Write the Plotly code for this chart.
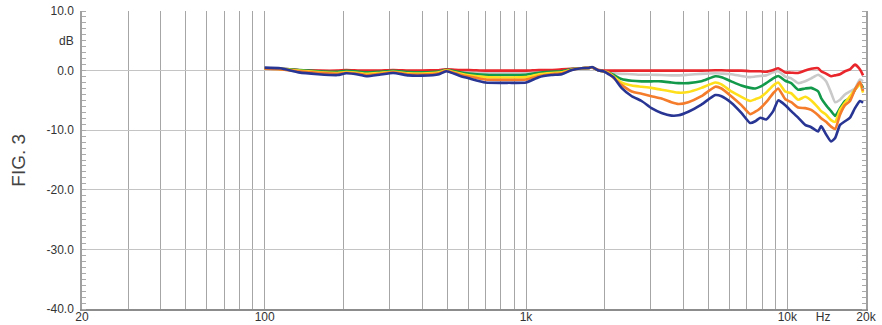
import math
import plotly.graph_objects as go

freq = [100, 115, 135, 160, 190, 205, 230, 245, 275, 310, 355, 400, 465, 495, 560,
        605, 700, 860, 1000, 1120, 1250, 1370, 1500, 1630, 1740, 1790, 1900, 1980, 2070, 2160,
        2320, 2540, 2770, 3020, 3300, 3600, 3830, 4180, 4690, 5300, 5600, 6100, 6670, 7210, 7540,
        7880, 8300, 8830, 9230, 9820, 10350, 11000, 11700, 12340, 13120, 13470, 14070, 14700, 15240, 15910,
        16620, 17370, 18150, 18970, 19490]

red = [0.4, 0.3, 0.1, 0.0, 0.0, 0.1, 0.0, 0.0, 0.0, 0.1, 0.0, 0.0, 0.1, 0.2, 0.1,
       0.1, 0.0, 0.0, 0.0, 0.1, 0.1, 0.2, 0.3, 0.4, 0.45, 0.5, 0.1, 0.0, 0.0, 0.0,
       0.0, 0.0, 0.0, 0.0, 0.0, 0.0, 0.0, 0.0, 0.0, 0.05, 0.05, 0.0, 0.0, -0.1, -0.1,
       -0.1, -0.2, 0.1, 0.4, -0.3, -0.35, -0.4, 0.0, 0.3, 0.4, -0.1, -0.5, -0.95, -0.8, -0.6,
       -0.1, 0.2, 1.0, 0.2, -0.8]

gray = [0.4, 0.3, 0.1, -0.05, -0.1, 0.0, -0.1, -0.15, -0.1, 0.0, -0.1, -0.1, 0.0, 0.2, -0.1,
        -0.2, -0.35, -0.4, -0.35, -0.1, 0.0, 0.1, 0.3, 0.4, 0.45, 0.55, 0.0, -0.1, -0.2, -0.4,
        -0.55, -0.6, -0.7, -0.7, -0.75, -0.8, -0.8, -0.7, -0.55, -0.45, -0.5, -0.6, -0.9, -1.1, -1.0,
        -0.9, -0.8, -0.3, -0.1, -1.0, -1.3, -2.1, -1.8, -1.3, -0.7, -1.0, -1.8, -3.7, -5.3, -4.9,
        -4.0, -3.5, -3.0, -1.5, -1.8]

green = [0.4, 0.3, 0.1, -0.1, -0.2, -0.05, -0.2, -0.3, -0.2, -0.05, -0.25, -0.3, -0.15, 0.15, -0.3,
         -0.5, -0.7, -0.75, -0.7, -0.35, -0.2, -0.1, 0.25, 0.4, 0.45, 0.55, 0.0, -0.1, -0.3, -0.7,
         -1.4, -1.7, -1.8, -1.8, -1.8, -2.0, -2.1, -2.1, -1.8, -0.95, -1.1, -1.8, -2.5, -2.9, -3.0,
         -2.7, -2.1, -1.3, -0.9, -1.7, -2.1, -3.2, -3.0, -2.9, -3.5, -4.6, -5.8, -6.8, -7.6, -6.3,
         -5.1, -4.6, -3.2, -2.1, -2.9]

yellow = [0.35, 0.25, 0.0, -0.25, -0.4, -0.25, -0.4, -0.55, -0.4, -0.2, -0.45, -0.5, -0.3, 0.05, -0.5,
          -0.8, -1.1, -1.15, -1.1, -0.6, -0.4, -0.3, 0.2, 0.4, 0.45, 0.55, 0.0, -0.1, -0.35, -0.95,
          -2.0, -2.5, -2.7, -2.9, -3.2, -3.5, -3.7, -3.6, -2.9, -2.0, -2.3, -3.5, -4.4, -5.1, -4.8,
          -4.5, -3.7, -2.5, -2.0, -3.5, -3.8, -4.9, -4.4, -5.0, -6.2, -6.8, -7.4, -8.3, -8.6, -6.6,
          -5.4, -4.3, -3.2, -2.3, -3.7]

orange = [0.3, 0.2, -0.1, -0.35, -0.55, -0.35, -0.55, -0.75, -0.55, -0.3, -0.6, -0.65, -0.45, -0.05, -0.7,
          -1.0, -1.5, -1.55, -1.5, -0.9, -0.6, -0.45, 0.15, 0.4, 0.45, 0.55, 0.0, -0.1, -0.45, -1.2,
          -2.4, -3.5, -3.9, -4.3, -4.7, -5.3, -5.6, -5.3, -4.3, -2.7, -3.0, -4.3, -5.8, -7.3, -6.9,
          -6.3, -5.3, -3.8, -3.0, -4.8, -5.3, -6.2, -6.3, -6.6, -7.5, -8.0, -8.6, -9.4, -9.8, -7.4,
          -5.8, -5.1, -3.2, -1.9, -3.4]

blue = [0.5, 0.4, -0.3, -0.6, -0.75, -0.45, -0.7, -0.95, -0.7, -0.4, -0.8, -0.85, -0.6, -0.1, -0.9,
        -1.3, -2.0, -2.05, -2.0, -1.1, -0.75, -0.6, 0.1, 0.4, 0.45, 0.6, 0.0, -0.1, -0.6, -1.1,
        -2.9, -4.3, -5.1, -6.3, -7.1, -7.55, -7.5, -6.9, -5.7, -4.1, -4.3, -5.4, -7.1, -8.8, -8.5,
        -7.9, -8.2, -6.8, -5.0, -5.8, -6.8, -7.9, -9.1, -9.5, -10.2, -9.3, -10.7, -11.9, -11.3, -9.1,
        -8.5, -7.9, -6.3, -5.1, -5.4]

series = [
    ("gray", gray, "#c9c9c9"),
    ("red", red, "#e8262b"),
    ("green", green, "#12994a"),
    ("yellow", yellow, "#ffdf1c"),
    ("orange", orange, "#f47c2a"),
    ("blue", blue, "#283593"),
]

x_tick_vals = [20, 100, 1000, 10000, 13700, 20000]
x_tick_text = ["20", "100", "1k", "10k", "Hz", "20k"]
x_grid_vals = [20, 30, 40, 50, 60, 70, 80, 90, 100, 200, 300, 400, 500, 600, 700, 800, 900,
               1000, 2000, 3000, 4000, 5000, 6000, 7000, 8000, 9000, 10000, 20000]
y_tick_vals = [10, 0, -10, -20, -30, -40]
y_tick_text = ["10.0", "0.0", "-10.0", "-20.0", "-30.0", "-40.0"]

fig = go.Figure()
for name, vals, col in series:
    fig.add_trace(go.Scatter(x=freq, y=vals, mode="lines", name=name,
                             line=dict(color=col, width=2.6, shape="spline", smoothing=0.5),
                             hoverinfo="skip"))

font = dict(family="Liberation Sans, Arial, sans-serif", size=12, color="#333333")

fig.update_layout(
    width=882, height=325,
    margin=dict(l=82, r=16, t=11, b=16),
    paper_bgcolor="white", plot_bgcolor="white",
    showlegend=False,
    font=font,
    xaxis=dict(
        type="log", range=[math.log10(20), math.log10(20000)],
        tickmode="array", tickvals=x_tick_vals, ticktext=x_tick_text,
        showgrid=False, ticks="", zeroline=False,
        showline=True, linecolor="#8c8c8c", linewidth=2,
        minor=dict(tickmode="array", tickvals=x_grid_vals, showgrid=True,
                   gridcolor="#a6a6a6", gridwidth=1.3, ticks=""),
        automargin=False, tickfont=font, ticklabelstandoff=-4,
    ),
    yaxis=dict(
        range=[-40, 10],
        tickmode="array", tickvals=y_tick_vals, ticktext=y_tick_text,
        showgrid=True, gridcolor="#c4c4c4", gridwidth=1.2, ticks="",
        zeroline=False,
        showline=True, linecolor="#a0a0a0", linewidth=1.5, mirror="ticks",
        minor=dict(dtick=1, ticks="inside", ticklen=4, tickcolor="#aaaaaa", tickwidth=1, showgrid=False),
        automargin=False, tickfont=font, ticklabelstandoff=4,
    ),
    annotations=[
        dict(text="dB", xref="paper", yref="y", x=0, y=5, xanchor="right", yanchor="middle",
             xshift=-6, showarrow=False, font=font),
        dict(text="FIG. 3", xref="paper", yref="paper", x=-0.082, y=0.5, textangle=-90,
             xanchor="center", yanchor="middle", showarrow=False,
             font=dict(family="Liberation Sans, Arial, sans-serif", size=19, color="#444444")),
    ],
)

fig.write_html("out.html", config={"displayModeBar": False},
               post_script="document.body.style.margin='0';document.body.style.padding='0';"
                           "document.documentElement.style.overflow='hidden';")
